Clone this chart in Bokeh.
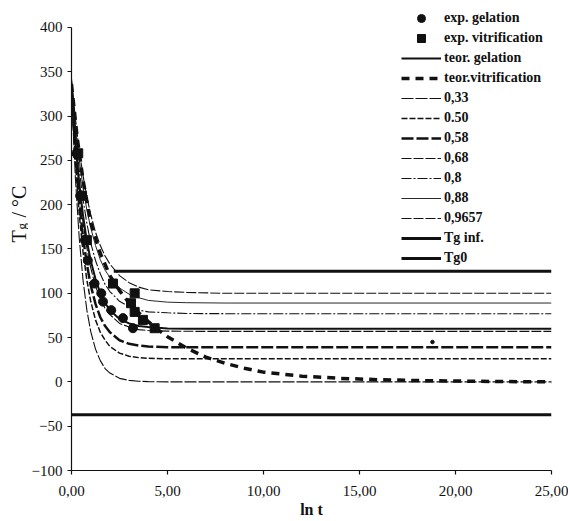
import math
from bokeh.plotting import figure
from bokeh.layouts import row
from bokeh.models import Legend, LegendItem, Label, FixedTicker, Range1d
from bokeh.embed import file_html
from bokeh.resources import INLINE

# ---------------- data ----------------
ln_t = [0, 0.2, 0.4, 0.6, 0.8, 1.0, 1.25, 1.5, 1.75, 2.0, 2.5, 3.0, 3.5, 4.0, 5.0, 6.0, 8.0, 25.0]
tg_0_9657 = [342, 298, 262, 233, 209, 189, 169, 154, 142, 133, 120, 112, 107, 104, 102, 101, 100, 100]
tg_0_88 = [340, 291, 251, 220, 194, 174, 154, 138, 126, 118, 106, 99, 95, 92, 90, 89.4, 89, 89]
tg_0_8 = [338, 283, 240, 206, 179, 157, 137, 122, 110, 102, 91, 85, 81, 79, 78, 77.2, 77, 77]
tg_gel = [336, 274, 225, 188, 159, 137, 116, 100, 89, 81, 71, 66, 63, 62, 60.4, 60.1, 60, 60]
tg_0_68 = [334, 268, 218, 180, 151, 129, 108, 94, 83, 76, 66, 62, 59, 58, 57.3, 57.1, 57, 57]
tg_0_58 = [332, 259, 205, 163, 133, 109, 88, 73, 63, 56, 47, 43, 41, 40, 39.2, 39, 39, 39]
tg_0_50 = [330, 249, 190, 147, 115, 91, 70, 56, 47, 40, 32.5, 29, 27.4, 26.6, 26.1, 26, 26, 26]
tg_0_33 = [328, 231, 163, 115, 81, 57, 37, 24, 15, 10, 4, 1.7, 0.7, 0.3, 0, 0, 0, 0]

vit_t = [0, 0.3, 0.6, 1.0, 1.5, 2.0, 2.5, 3.0, 3.5, 4.0, 4.5, 5.0, 6.0, 7.0, 8.0, 9.0, 10, 12, 14, 16, 18, 20, 22, 25]
vit_tg = [336, 275, 228, 180, 145, 120, 103, 89, 78, 68, 59, 51, 38, 28, 21, 15.5, 11, 6.5, 4, 2.5, 1.5, 1, 0.5, 0]

tg_inf_t = [2.2, 25]
tg_inf = [125, 125]
tg0_t = [0, 25]
tg0 = [-37, -37]

exp_gel_t = [0.25, 0.45, 0.7, 0.85, 1.2, 1.55, 1.64, 2.07, 2.68, 3.2]
exp_gel_tg = [258, 210, 160, 137, 111, 100, 90.6, 81, 72, 60.6]
exp_vit_t = [0.35, 0.55, 0.8, 2.16, 3.29, 3.1, 3.29, 3.72, 4.33]
exp_vit_tg = [258, 210, 160, 111, 100, 88.8, 79, 70, 60.6]

stray_t = [18.8]
stray_tg = [45]

x_ticks = [0, 5, 10, 15, 20, 25]
x_tick_labels = ["0,00", "5,00", "10,00", "15,00", "20,00", "25,00"]
y_ticks = [-100, -50, 0, 50, 100, 150, 200, 250, 300, 350, 400]

# ---------------- figure ----------------
INK = "#111111"
SERIF = "Liberation Serif"

LEFT_W = 28
TOTAL_W = 568
TOTAL_H = 520
FRAME_BOTTOM = 470  # frames of the row are aligned; labels below are frame-relative

# y range extended slightly above 400 so the legend (which starts above the
# 400 tick) is not clipped by the frame; the axis itself stops at 400.
p = figure(width=TOTAL_W - LEFT_W, height=TOTAL_H, output_backend="svg", toolbar_location=None,
           x_range=Range1d(0, 25), y_range=Range1d(-100, 423.7),
           min_border_left=37, min_border_right=17, min_border_top=6, min_border_bottom=50)
p.grid.visible = False
p.outline_line_color = None
p.background_fill_color = "white"
p.border_fill_color = "white"

for ax in (p.xaxis[0], p.yaxis[0]):
    ax.axis_line_color = INK
    ax.axis_line_width = 1.2
    ax.major_tick_line_color = INK
    ax.major_tick_line_width = 1.2
    ax.major_tick_out = 4
    ax.major_tick_in = 0
    ax.minor_tick_line_color = None
    ax.major_label_text_font = SERIF
    ax.major_label_text_font_size = "15px"
    ax.major_label_text_color = INK

p.xaxis.ticker = FixedTicker(ticks=x_ticks)
p.xaxis.major_label_overrides = dict(zip(x_ticks, x_tick_labels))
p.xaxis.major_label_standoff = 11
p.xaxis.axis_label = "ln t"
p.xaxis.axis_label_text_font = SERIF
p.xaxis.axis_label_text_font_size = "16px"
p.xaxis.axis_label_text_font_style = "bold"
p.xaxis.axis_label_text_color = INK
p.xaxis.axis_label_standoff = 2
p.yaxis.ticker = FixedTicker(ticks=y_ticks)
p.yaxis.major_label_standoff = 5
p.yaxis.bounds = (-100, 400)

# curves
r_9657 = p.line(ln_t, tg_0_9657, line_color=INK, line_width=1.1, line_dash="10 2")
r_88 = p.line(ln_t, tg_0_88, line_color=INK, line_width=0.9)
r_8 = p.line(ln_t, tg_0_8, line_color=INK, line_width=1.1, line_dash="10 2 2 2")
r_68 = p.line(ln_t, tg_0_68, line_color=INK, line_width=1.1, line_dash="10 2")
r_58 = p.line(ln_t, tg_0_58, line_color=INK, line_width=2.5, line_dash="12 3")
r_50 = p.line(ln_t, tg_0_50, line_color=INK, line_width=1.5, line_dash="6 2")
r_33 = p.line(ln_t, tg_0_33, line_color=INK, line_width=1.1, line_dash="12 2")
r_gel = p.line(ln_t, tg_gel, line_color=INK, line_width=2)
r_vit = p.line(vit_t, vit_tg, line_color=INK, line_width=3.5, line_dash="8 6")
r_inf = p.line(tg_inf_t, tg_inf, line_color=INK, line_width=3)
r_tg0 = p.line(tg0_t, tg0, line_color=INK, line_width=3)

r_egel = p.scatter(exp_gel_t, exp_gel_tg, marker="circle", size=9, fill_color=INK, line_color=INK)
r_evit = p.scatter(exp_vit_t, exp_vit_tg, marker="square", size=9, fill_color=INK, line_color=INK)
p.scatter(stray_t, stray_tg, marker="circle", size=3.5, fill_color=INK, line_color=INK)

items = [
    LegendItem(label="exp. gelation", renderers=[r_egel]),
    LegendItem(label="exp. vitrification", renderers=[r_evit]),
    LegendItem(label="teor. gelation", renderers=[r_gel]),
    LegendItem(label="teor.vitrification", renderers=[r_vit]),
    LegendItem(label="0,33", renderers=[r_33]),
    LegendItem(label="0.50", renderers=[r_50]),
    LegendItem(label="0,58", renderers=[r_58]),
    LegendItem(label="0,68", renderers=[r_68]),
    LegendItem(label="0,8", renderers=[r_8]),
    LegendItem(label="0,88", renderers=[r_88]),
    LegendItem(label="0,9657", renderers=[r_9657]),
    LegendItem(label="Tg inf.", renderers=[r_inf]),
    LegendItem(label="Tg0", renderers=[r_tg0]),
]
legend = Legend(items=items, location=(330, 202), padding=0, margin=0, spacing=0,
                glyph_width=40, glyph_height=20, label_height=20, label_standoff=3,
                border_line_color=None, background_fill_alpha=0,
                label_text_font=SERIF, label_text_font_size="14px",
                label_text_font_style="bold", label_text_color=INK)
p.add_layout(legend)

# narrow strip on the left carrying the rotated y-axis title "Tg /°C" (g as subscript)
q = figure(width=LEFT_W, height=TOTAL_H, output_backend="svg", toolbar_location=None,
           x_range=Range1d(0, 1), y_range=Range1d(0, 1),
           x_axis_location=None, y_axis_location=None,
           min_border_left=0, min_border_right=0, min_border_top=0, min_border_bottom=0)
q.grid.visible = False
q.outline_line_color = None
q.background_fill_color = "white"
q.border_fill_color = "white"
ang = math.pi / 2
q.add_layout(Label(x=18, y=FRAME_BOTTOM - 242, x_units="screen", y_units="screen", text="T", angle=ang,
                   text_font=SERIF, text_font_size="20px", text_align="left",
                   text_baseline="alphabetic", text_color=INK))
q.add_layout(Label(x=20.5, y=FRAME_BOTTOM - 229, x_units="screen", y_units="screen", text="g", angle=ang,
                   text_font=SERIF, text_font_size="13px", text_align="left",
                   text_baseline="alphabetic", text_color=INK))
q.add_layout(Label(x=18, y=FRAME_BOTTOM - 217, x_units="screen", y_units="screen", text="/ °C", angle=ang,
                   text_font=SERIF, text_font_size="20px", text_align="left",
                   text_baseline="alphabetic", text_color=INK))

layout = row(q, p, spacing=0)
open("out.html", "w").write(file_html(layout, INLINE))
